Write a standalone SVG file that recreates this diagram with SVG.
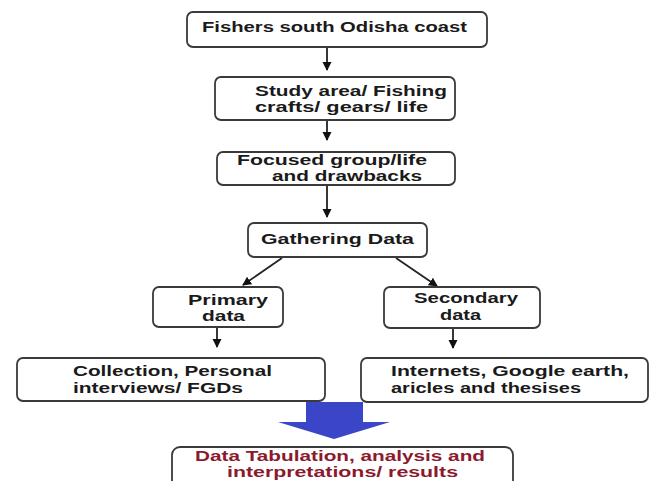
<svg xmlns="http://www.w3.org/2000/svg" width="651" height="481" viewBox="0 0 651 481">
<defs>
<style>
.box{fill:#fff;stroke:#3a3a3a;stroke-width:1.8}
.t{font-family:"Liberation Sans",Arial,sans-serif;font-weight:bold;font-size:14px;fill:#1a1a1a}
.r{fill:#8b1a2e}
.c{stroke:#222;stroke-width:1.8;fill:none}
</style>
<marker id="ah" markerWidth="10" markerHeight="10" refX="8" refY="4.5" orient="auto" markerUnits="userSpaceOnUse">
<path d="M0,0 L9,4.5 L0,9 Z" fill="#111"/>
</marker>
</defs>
<rect width="651" height="481" fill="#fff"/>
<g id="connectors">
<line class="c" x1="327" y1="47" x2="327" y2="70" marker-end="url(#ah)"/>
<line class="c" x1="327" y1="120" x2="327" y2="140" marker-end="url(#ah)"/>
<line class="c" x1="327" y1="185" x2="327" y2="217" marker-end="url(#ah)"/>
<line class="c" x1="282" y1="258" x2="243" y2="285" marker-end="url(#ah)"/>
<line class="c" x1="396" y1="258" x2="437" y2="286" marker-end="url(#ah)"/>
<line class="c" x1="217" y1="327" x2="217" y2="347" marker-end="url(#ah)"/>
<line class="c" x1="453" y1="328" x2="453" y2="348" marker-end="url(#ah)"/>
<path id="blue-arrow" d="M306,402 L363,402 L363,422 L390,422 L334,439 L278,422 L306,422 Z" fill="#3b45c8"/>
</g>
<g id="n1">
<rect class="box" x="187" y="12" width="300" height="35" rx="6"/>
<text class="t" x="202" y="32" textLength="265" lengthAdjust="spacingAndGlyphs">Fishers south Odisha coast</text>
</g>
<g id="n2">
<rect class="box" x="215" y="77" width="240" height="43" rx="6"/>
<text class="t" x="255" y="96" textLength="192" lengthAdjust="spacingAndGlyphs">Study area/ Fishing</text>
<text class="t" x="255" y="112" textLength="173" lengthAdjust="spacingAndGlyphs">crafts/ gears/ life</text>
</g>
<g id="n3">
<rect class="box" x="217" y="152" width="238" height="33" rx="6"/>
<text class="t" x="237" y="165" textLength="190" lengthAdjust="spacingAndGlyphs">Focused group/life</text>
<text class="t" x="272" y="181" textLength="150" lengthAdjust="spacingAndGlyphs">and drawbacks</text>
</g>
<g id="n4">
<rect class="box" x="248" y="223" width="179" height="34" rx="6"/>
<text class="t" x="261" y="244" textLength="153" lengthAdjust="spacingAndGlyphs">Gathering Data</text>
</g>
<g id="n5">
<rect class="box" x="153" y="287" width="130" height="40" rx="6"/>
<text class="t" x="188" y="305" textLength="80" lengthAdjust="spacingAndGlyphs">Primary</text>
<text class="t" x="202" y="321" textLength="43" lengthAdjust="spacingAndGlyphs">data</text>
</g>
<g id="n6">
<rect class="box" x="384" y="287" width="156" height="41" rx="6"/>
<text class="t" x="414" y="303" textLength="104" lengthAdjust="spacingAndGlyphs">Secondary</text>
<text class="t" x="440" y="320" textLength="41" lengthAdjust="spacingAndGlyphs">data</text>
</g>
<g id="n7">
<rect class="box" x="17" y="358" width="308" height="43" rx="6"/>
<text class="t" x="73" y="376" textLength="199" lengthAdjust="spacingAndGlyphs">Collection, Personal</text>
<text class="t" x="73" y="393" textLength="170" lengthAdjust="spacingAndGlyphs">interviews/ FGDs</text>
</g>
<g id="n8">
<rect class="box" x="361" y="358" width="287" height="44" rx="6"/>
<text class="t" x="391" y="376" textLength="238" lengthAdjust="spacingAndGlyphs">Internets, Google earth,</text>
<text class="t" x="391" y="393" textLength="190" lengthAdjust="spacingAndGlyphs">aricles and thesises</text>
</g>
<g id="n9">
<rect class="box" x="172" y="447" width="341" height="50" rx="8"/>
<text class="t r" x="195" y="461" textLength="290" lengthAdjust="spacingAndGlyphs">Data Tabulation, analysis and</text>
<text class="t r" x="227" y="477" textLength="231" lengthAdjust="spacingAndGlyphs">interpretations/ results</text>
</g>
</svg>
